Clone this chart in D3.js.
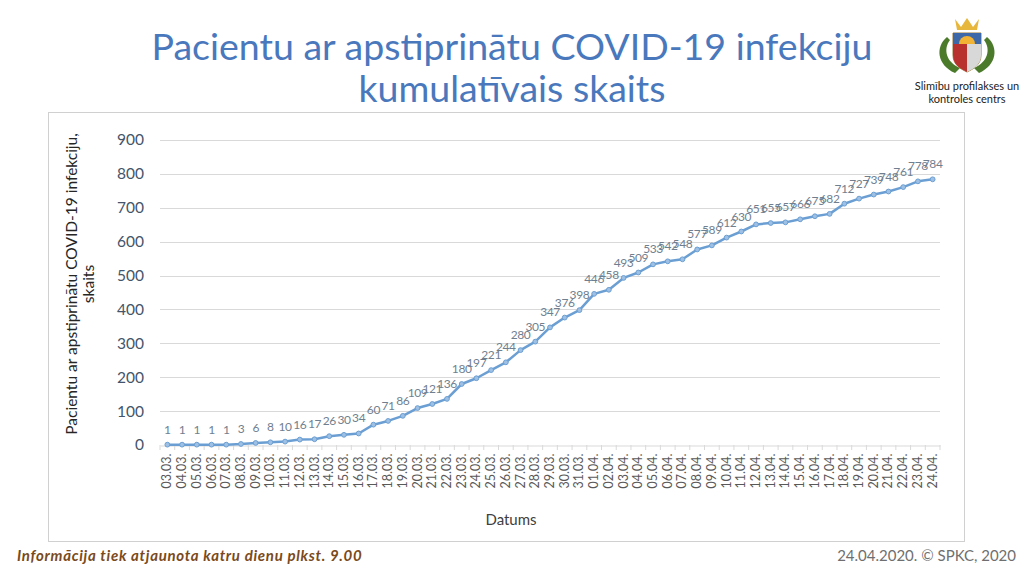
<!DOCTYPE html>
<html>
<head>
<meta charset="utf-8">
<script src="https://cdn.jsdelivr.net/npm/d3@7"></script>
<style>
  html, body { margin: 0; padding: 0; background: #fff; }
  #root { width: 1024px; height: 576px; }
  text { font-family: Lato, "Open Sans", sans-serif; }
</style>
</head>
<body>
<div id="root"></div>
<script>
const SVG_WIDTH = 1024;
const SVG_HEIGHT = 576;

// datumi un kumulatīvais pacientu skaits
const dates = [
  '03.03.', '04.03.', '05.03.', '06.03.', '07.03.', '08.03.', '09.03.', '10.03.', '11.03.', '12.03.',
  '13.03.', '14.03.', '15.03.', '16.03.', '17.03.', '18.03.', '19.03.', '20.03.', '21.03.', '22.03.',
  '23.03.', '24.03.', '25.03.', '26.03.', '27.03.', '28.03.', '29.03.', '30.03.', '31.03.', '01.04.',
  '02.04.', '03.04.', '04.04.', '05.04.', '06.04.', '07.04.', '08.04.', '09.04.', '10.04.', '11.04.',
  '12.04.', '13.04.', '14.04.', '15.04.', '16.04.', '17.04.', '18.04.', '19.04.', '20.04.', '21.04.',
  '22.04.', '23.04.', '24.04.',
];
const cases = [
  1, 1, 1, 1, 1, 3, 6, 8, 10, 16,
  17, 26, 30, 34, 60, 71, 86, 109, 121, 136,
  180, 197, 221, 244, 280, 305, 347, 376, 398, 446,
  458, 493, 509, 533, 542, 548, 577, 589, 612, 630,
  651, 655, 657, 666, 675, 682, 712, 727, 739, 748,
  761, 778, 784,
];
const yTicks = [0, 100, 200, 300, 400, 500, 600, 700, 800, 900];

const titleLines = ['Pacientu ar apstiprinātu COVID-19 infekciju', 'kumulatīvais skaits'];
const yTitleLines = ['Pacientu ar apstiprinātu COVID-19 infekciju,', 'skaits'];

const plot = { left: 160, right: 940, top: 140, bottom: 445 };

function addSvg() {
  const svg = document.createElementNS('http://www.w3.org/2000/svg', 'svg');
  svg.id = 'svg';
  svg.setAttribute('width', SVG_WIDTH);
  svg.setAttribute('height', SVG_HEIGHT);
  return svg;
}

function drawHeader() {
  const svg = d3.select('#svg');
  svg.append('g')
    .selectAll('text')
    .data(titleLines)
    .join('text')
    .attr('x', 512)
    .attr('y', (d, i) => 60 + i * 42)
    .attr('text-anchor', 'middle')
    .attr('font-size', 37.5)
    .attr('fill', '#4a78bd')
    .text((d) => d);

  // logotips (vienkāršots ģerbonis)
  const logo = svg.append('g').attr('transform', 'translate(967,47)');
  logo.append('path').attr('d', 'M-20,-10 C-32,0 -30,18 -12,26 L-7,21 C-21,15 -24,2 -17,-7 Z').attr('fill', '#4b7a2a');
  logo.append('path').attr('d', 'M20,-10 C32,0 30,18 12,26 L7,21 C21,15 24,2 17,-7 Z').attr('fill', '#4b7a2a');
  logo.append('path').attr('d', 'M-14,-14 L14,-14 L14,8 C14,18 6,22 0,25 C-6,22 -14,18 -14,8 Z').attr('fill', '#fff').attr('stroke', '#9a7b3a').attr('stroke-width', 1);
  logo.append('path').attr('d', 'M-14,-14 L14,-14 L14,-3 L-14,-3 Z').attr('fill', '#3c67a8');
  logo.append('path').attr('d', 'M-8,-3 A8,8 0 0 1 8,-3 Z').attr('fill', '#f2b233');
  logo.append('path').attr('d', 'M-14,-3 L0,-3 L0,25 C-6,22 -14,18 -14,8 Z').attr('fill', '#b9312f');
  logo.append('path').attr('d', 'M0,-3 L14,-3 L14,8 C14,18 6,22 0,25 Z').attr('fill', '#d8d8d8');
  logo.append('path').attr('d', 'M-12,-28 L-6,-20 L0,-29 L6,-20 L12,-28 L10,-17 L-10,-17 Z').attr('fill', '#e7b73b');

  svg.append('g')
    .selectAll('text')
    .data(['Slimību profilakses un', 'kontroles centrs'])
    .join('text')
    .attr('x', 967)
    .attr('y', (d, i) => 90 + i * 13)
    .attr('text-anchor', 'middle')
    .attr('font-size', 11)
    .attr('fill', '#222')
    .text((d) => d);
}

function drawChart() {
  const svg = d3.select('#svg');
  const xScale = d3.scaleBand().domain(dates).range([plot.left, plot.right]);
  const yScale = d3.scaleLinear().domain([0, 900]).range([plot.bottom, plot.top]);

  // rāmis
  svg.append('rect')
    .attr('x', 48.5).attr('y', 112.5).attr('width', 916).attr('height', 429)
    .attr('fill', 'none').attr('stroke', '#d0d0d0').attr('stroke-width', 1);

  // režģis
  svg.append('g')
    .selectAll('line')
    .data(yTicks.filter((d) => d > 0))
    .join('line')
    .attr('x1', plot.left).attr('x2', plot.right)
    .attr('y1', (d) => Math.round(yScale(d)) + 0.5)
    .attr('y2', (d) => Math.round(yScale(d)) + 0.5)
    .attr('stroke', '#d9d9d9');

  // y ass
  const yAxis = svg.append('g')
    .attr('transform', `translate(${plot.left},0)`)
    .call(d3.axisLeft(yScale).tickValues(yTicks).tickSize(0).tickPadding(16));
  yAxis.select('.domain').remove();
  yAxis.selectAll('text')
    .attr('font-family', 'Lato, "Open Sans", sans-serif')
    .attr('font-size', 15.5)
    .attr('fill', '#44546a');

  // x ass
  const xAxis = svg.append('g')
    .attr('transform', `translate(0,${Math.round(plot.bottom) + 0.5})`)
    .call(d3.axisBottom(xScale).tickSize(0).tickPadding(6));
  xAxis.select('.domain').attr('stroke', '#d9d9d9');
  xAxis.selectAll('text')
    .attr('font-family', 'Lato, "Open Sans", sans-serif')
    .attr('font-size', 12.5)
    .attr('fill', '#595959')
    .attr('text-anchor', 'end')
    .attr('dy', '0.32em')
    .attr('transform', 'translate(0,2) rotate(-90)')
    .attr('x', -6)
    .attr('y', 0);
  // ass iedaļas starp kategorijām
  svg.append('g')
    .selectAll('line')
    .data(dates.concat(['end']))
    .join('line')
    .attr('x1', (d, i) => plot.left + i * xScale.step())
    .attr('x2', (d, i) => plot.left + i * xScale.step())
    .attr('y1', plot.bottom)
    .attr('y2', plot.bottom + 5)
    .attr('stroke', '#d9d9d9');

  const cx = (d, i) => xScale(dates[i]) + xScale.bandwidth() / 2;

  const line = d3.line().x(cx).y((d) => yScale(d));
  svg.append('path')
    .datum(cases)
    .attr('d', line)
    .attr('fill', 'none')
    .attr('stroke', '#6b9fd3')
    .attr('stroke-width', 2.5)
    .attr('stroke-linejoin', 'round');

  svg.append('g')
    .selectAll('circle')
    .data(cases)
    .join('circle')
    .attr('cx', cx)
    .attr('cy', (d) => yScale(d))
    .attr('r', 2.4)
    .attr('fill', '#9dc0e4')
    .attr('stroke', '#6b9fd3')
    .attr('stroke-width', 1);

  svg.append('g')
    .selectAll('text')
    .data(cases)
    .join('text')
    .attr('x', cx)
    .attr('y', (d) => yScale(d) - 11)
    .attr('text-anchor', 'middle')
    .attr('font-size', 12)
    .attr('letter-spacing', -0.4)
    .attr('fill', '#707f90')
    .text((d) => d);

  // asu nosaukumi
  svg.append('g')
    .attr('transform', 'translate(77,284) rotate(-90)')
    .selectAll('text')
    .data(yTitleLines)
    .join('text')
    .attr('x', 0)
    .attr('y', (d, i) => i * 17)
    .attr('text-anchor', 'middle')
    .attr('font-size', 15.5)
    .attr('fill', '#262626')
    .text((d) => d);

  svg.append('text')
    .attr('x', 511)
    .attr('y', 525)
    .attr('text-anchor', 'middle')
    .attr('font-size', 15)
    .attr('fill', '#404040')
    .text('Datums');
}

function drawFooter() {
  const svg = d3.select('#svg');
  svg.append('text')
    .attr('x', 17)
    .attr('y', 561)
    .attr('font-size', 15)
    .attr('font-weight', 'bold')
    .attr('font-style', 'italic')
    .attr('fill', '#7a4a1c')
    .attr('letter-spacing', 0.7)
    .text('Informācija tiek atjaunota katru dienu plkst. 9.00');
  svg.append('text')
    .attr('x', 1016)
    .attr('y', 561)
    .attr('text-anchor', 'end')
    .attr('font-size', 15)
    .attr('fill', '#6f6f6f')
    .text('24.04.2020. © SPKC, 2020');
}

function main() {
  drawHeader();
  drawChart();
  drawFooter();
}

const root = document.getElementById('root');
root.appendChild(addSvg());
main();
</script>
</body>
</html>
